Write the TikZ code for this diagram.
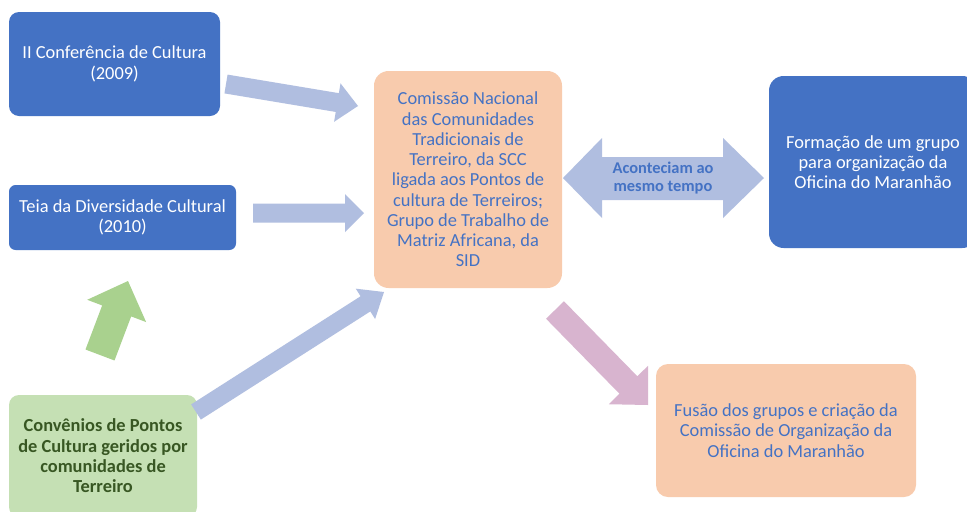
\documentclass[tikz,border=0pt]{standalone}
\usepackage{fontspec}
\setmainfont{Carlito}
\usetikzlibrary{calc}
\definecolor{boxblue}{HTML}{4472C4}
\definecolor{arrblue}{HTML}{B0BEE0}
\definecolor{boxorange}{HTML}{F8CBAD}
\definecolor{boxgreen}{HTML}{C5E0B4}
\definecolor{arrgreen}{HTML}{A9D18E}
\definecolor{txtgreen}{HTML}{385723}
\definecolor{arrpink}{HTML}{D8B4CF}
\newcommand\barrow[6]{%
  \coordinate (hb) at ($(#2)!#5*0.75pt!(#1)$);
  \fill[#6] ($(#1)!#3*0.375pt!90:(#2)$) -- ($(hb)!#3*0.375pt!-90:(#1)$)
    -- ($(hb)!#4*0.375pt!-90:(#1)$) -- (#2) -- ($(hb)!#4*0.375pt!90:(#1)$)
    -- ($(hb)!#3*0.375pt!90:(#1)$) -- ($(#1)!#3*0.375pt!-90:(#2)$) -- cycle;}
\tikzset{
  box/.style={rectangle, rounded corners=7.5pt, inner sep=0pt, align=center,
    font=\fontsize{13.8}{15.2}\selectfont},
  bluebox/.style={box, fill=boxblue, text=white},
  orangebox/.style={box, fill=boxorange, text=boxblue},
  greenbox/.style={box, fill=boxgreen, text=txtgreen, font=\fontsize{13.8}{15.2}\selectfont\bfseries},
}
\begin{document}
\begin{tikzpicture}[x=0.75pt,y=-0.75pt]
\clip (0,0) rectangle (967,511);
\fill[white] (0,0) rectangle (967,511);
% boxes
\node[bluebox, minimum width=211*0.75pt, minimum height=104*0.75pt] (A) at (114.5,64) {II Conferência de Cultura\\(2009)};
\node[bluebox, minimum width=227*0.75pt, minimum height=65*0.75pt, rounded corners=5pt] (B) at (122.5,217.5) {Teia da Diversidade Cultural\\(2010)};
\node[greenbox, minimum width=188*0.75pt, minimum height=122*0.75pt] (C) at (103,456) {Convênios de Pontos\\de Cultura geridos por\\comunidades de\\Terreiro};
\node[orangebox, minimum width=188*0.75pt, minimum height=217*0.75pt, rounded corners=11pt] (D) at (468,179.5) {Comissão Nacional\\das Comunidades\\Tradicionais de\\Terreiro, da SCC\\ligada aos Pontos de\\cultura de Terreiros;\\Grupo de Trabalho de\\Matriz Africana, da\\SID};
\node[bluebox, minimum width=208*0.75pt, minimum height=172*0.75pt, rounded corners=11pt] (E) at (873,162) {Formação de um grupo\\para organização da\\Oficina do Maranhão};
\node[orangebox, minimum width=260*0.75pt, minimum height=133*0.75pt, rounded corners=9pt] (F) at (786,430.5) {Fusão dos grupos e criação da\\Comissão de Organização da\\Oficina do Maranhão};
% arrow end points
\coordinate (a1) at (226,84);  \coordinate (a2) at (358,106);
\coordinate (b1) at (253,213); \coordinate (b2) at (364,213);
\coordinate (g1) at (100,355); \coordinate (g2) at (128,281);
\coordinate (c1) at (196,412); \coordinate (c2) at (384,292);
\coordinate (p1) at (555,310); \coordinate (p2) at (648,405);
\barrow{a1}{a2}{19}{39}{21}{arrblue}
\barrow{b1}{b2}{19}{38}{19}{arrblue}
\barrow{g1}{g2}{31}{63}{32}{arrgreen}
\barrow{c1}{c2}{18}{36}{22}{arrblue}
\barrow{p1}{p2}{25}{55}{28}{arrpink}
% double arrow
\fill[arrblue] (563,178) -- (602,138) -- (602,157) -- (723,157) -- (723,138) -- (764,178)
  -- (723,218) -- (723,200) -- (602,200) -- (602,218) -- cycle;
\node[font=\fontsize{12.3}{13.8}\selectfont\bfseries, text=boxblue, align=center] (lab) at (663,178) {Aconteciam ao\\mesmo tempo};
\end{tikzpicture}
\end{document}
